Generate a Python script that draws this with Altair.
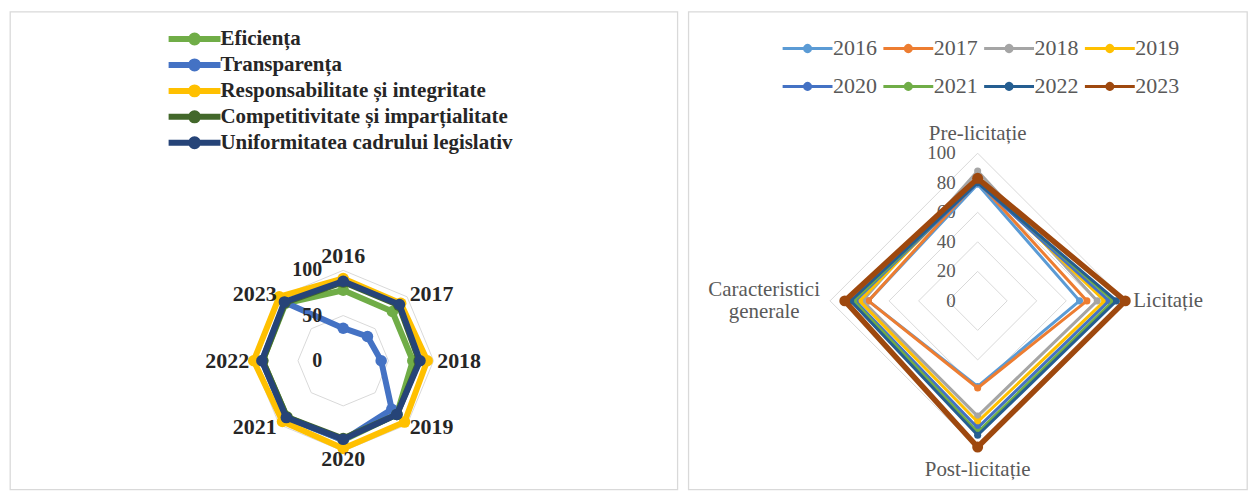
import altair as alt
import pandas as pd

FONT = "Liberation Serif"

# ---------------- left radar: criteria by year ----------------
years = ["2016", "2017", "2018", "2019", "2020", "2021", "2022", "2023"]
left_names = [
    "Eficiența",
    "Transparența",
    "Responsabilitate și integritate",
    "Competitivitate și imparțialitate",
    "Uniformitatea cadrului legislativ",
]
eficienta = [78, 77, 77, 84, 88, 88, 89, 90]
transparenta = [36, 38, 42, 76, 88, 89, 90, 91]
responsabilitate = [91, 90, 93, 96, 97, 95, 99, 100]
competitivitate = [87, 87, 84, 84, 86, 88, 89, 91]
uniformitatea = [88, 88, 85, 84, 87, 89, 90, 92]
left_series = [eficienta, transparenta, responsabilitate, competitivitate, uniformitatea]
left_colors = ["#70AD47", "#4472C4", "#FFC000", "#43682B", "#264478"]
left_ticks = [0, 50, 100]
left_rings = [50, 100]

# ---------------- right radar: stages by year ----------------
stages = ["Pre-licitație", "Licitație", "Post-licitație", "Caracteristici generale"]
right_names = ["2016", "2017", "2018", "2019", "2020", "2021", "2022", "2023"]
v2016 = [79, 69, 58, 74]
v2017 = [81, 74, 59, 74]
v2018 = [88, 81, 78, 78]
v2019 = [82, 86, 82, 80]
v2020 = [80, 89, 86, 83]
v2021 = [81, 92, 89, 84]
v2022 = [80, 94, 91, 86]
v2023 = [83, 100, 99, 90]
right_series = [v2016, v2017, v2018, v2019, v2020, v2021, v2022, v2023]
right_colors = ["#5B9BD5", "#ED7D31", "#A5A5A5", "#FFC000",
                "#4472C4", "#70AD47", "#255E91", "#9E480E"]
right_ticks = [0, 20, 40, 60, 80, 100]
right_rings = [20, 40, 60, 80, 100]


def long_table(names, series, cats):
    rows = []
    for name, vals in zip(names, series):
        for i, (c, v) in enumerate(zip(cats, vals)):
            rows.append({"series": name, "cat": c, "idx": i, "value": v})
    return pd.DataFrame(rows)


def polar(chart, n):
    return chart.transform_calculate(
        ang=f"datum.idx * 2 * PI / {n}"
    ).transform_calculate(
        px="datum.value * sin(datum.ang)", py="datum.value * cos(datum.ang)"
    )


def circ(cx, r):
    return (f"M{cx - r:.3f},0A{r:.3f},{r:.3f},0,1,1,{cx + r:.3f},0"
            f"A{r:.3f},{r:.3f},0,1,1,{cx - r:.3f},0")


def legend_path(sym_px, line_px, dot_radii_px):
    """Line with a dot drawn from strokes, in a symbol box of sym_px pixels."""
    unit = sym_px / 2.0
    x1 = -1 + line_px / unit
    mid = (-1 + x1) / 2
    p = f"M-1,0L{x1:.3f},0"
    for r in dot_radii_px:
        p += circ(mid, r / unit)
    return p


def radar(cats, names, series, colors, rings, ticks, center, pxu, size,
          line_w, pt_size, legend, label_specs, tick_style, ticks_on_top):
    W, H = size
    cx, cy = center
    xdom = [-cx / pxu, (W - cx) / pxu]
    ydom = [-(H - cy) / pxu, cy / pxu]
    n = len(cats)
    X = alt.X("px:Q", scale=alt.Scale(domain=xdom, nice=False, zero=False), axis=None)
    Y = alt.Y("py:Q", scale=alt.Scale(domain=ydom, nice=False, zero=False), axis=None)
    cscale = alt.Scale(domain=names, range=colors)
    df = long_table(names, series, cats)

    ring_df = pd.DataFrame([{"ring": r, "idx": i, "value": r} for r in rings for i in range(n)])
    ring_layer = polar(alt.Chart(ring_df), n).mark_line(
        interpolate="linear-closed", stroke="#d9d9d9", strokeWidth=1
    ).encode(X, Y, detail="ring:N", order="idx:Q")

    tick_df = pd.DataFrame({"tick": ticks})
    tick_layer = alt.Chart(tick_df).transform_calculate(
        px="0", py="datum.tick"
    ).mark_text(**tick_style).encode(X, Y, text="tick:Q")

    layers = [ring_layer]
    if not ticks_on_top:
        layers.append(tick_layer)
    for k, name in enumerate(names):
        base = polar(alt.Chart(df).transform_filter(alt.datum.series == name), n)
        line = base.mark_line(interpolate="linear-closed", strokeWidth=line_w[k]).encode(
            X, Y, order="idx:Q",
            color=alt.Color("series:N", scale=cscale, legend=legend),
        )
        pts = base.mark_point(filled=True, size=pt_size[k], opacity=1, strokeWidth=0).encode(
            X, Y, color=alt.Color("series:N", scale=cscale, legend=None),
        )
        layers += [line, pts]
    if ticks_on_top:
        layers.append(tick_layer)

    cat_df = pd.DataFrame({"cat": cats, "idx": list(range(n))})
    for filt, radius, kw in label_specs:
        lab = alt.Chart(cat_df).transform_calculate(
            ang=f"datum.idx * 2 * PI / {n}"
        ).transform_calculate(
            s="sin(datum.ang)", c="cos(datum.ang)"
        ).transform_filter(filt).transform_calculate(
            px=f"{radius} * datum.s", py=f"{radius} * datum.c"
        ).mark_text(**kw).encode(X, Y, text="cat:N")
        layers.append(lab)

    return alt.layer(*layers).properties(width=W, height=H)


# ---------- left panel ----------
lbl_left = dict(font=FONT, fontSize=22, fontWeight="bold", color="#262626")
left_label_specs = [
    ("datum.c > 0.9", 108, dict(align="center", baseline="alphabetic", **lbl_left)),
    ("datum.c < -0.9", 98, dict(align="center", baseline="top", **lbl_left)),
    ("datum.s > 0.1", 104, dict(align="left", baseline="middle", **lbl_left)),
    ("datum.s < -0.1", 104, dict(align="right", baseline="middle", **lbl_left)),
]
L_SYM = 13
left_legend = alt.Legend(
    title=None, orient="none", legendX=155, legendY=17, direction="vertical",
    symbolType=legend_path(L_SYM, 52, [1.5, 3.5]),
    symbolSize=L_SYM * L_SYM, symbolStrokeWidth=6,
    labelFont=FONT, labelFontSize=21, labelFontWeight="bold", labelColor="#262626",
    labelOffset=52 - L_SYM - 4, rowPadding=-8.7, labelLimit=500, padding=0,
)
left = radar(
    years, left_names, left_series, left_colors, left_rings, left_ticks,
    center=(334, 350), pxu=0.906, size=(669, 479),
    line_w=[6] * 5, pt_size=[133] * 5, legend=left_legend,
    label_specs=left_label_specs,
    tick_style=dict(align="right", dx=-21, baseline="middle", font=FONT,
                    fontSize=20, fontWeight="bold", color="#262626"),
    ticks_on_top=True,
)

# ---------- right panel ----------
lbl_right = dict(font=FONT, fontSize=21, color="#595959")
right_label_specs = [
    ("datum.c > 0.9", 109, dict(align="center", baseline="alphabetic", **lbl_right)),
    ("datum.c < -0.9", 107.4, dict(align="center", baseline="top", **lbl_right)),
    ("datum.s > 0.5", 105.4, dict(align="left", baseline="middle", **lbl_right)),
    ("datum.s < -0.5", 144.6, dict(align="center", baseline="middle", lineBreak=" ",
                                   lineHeight=22, dy=-11, **lbl_right)),
]
R_SYM = 9
right_legend = alt.Legend(
    title=None, orient="none", legendX=88, legendY=26, direction="horizontal", columns=4,
    symbolType=legend_path(R_SYM, 50, [1.5, 3.0]),
    symbolSize=R_SYM * R_SYM, symbolStrokeWidth=3,
    labelFont=FONT, labelFontSize=22, labelColor="#595959",
    labelOffset=50 - R_SYM - 6, rowPadding=16, columnPadding=0, labelLimit=200, padding=0,
)
right = radar(
    stages, right_names, right_series, right_colors, right_rings, right_ticks,
    center=(290, 290), pxu=1.48, size=(560, 479),
    line_w=[3] * 7 + [5.5], pt_size=[50] * 7 + [120], legend=right_legend,
    label_specs=right_label_specs,
    tick_style=dict(align="right", dx=-22, baseline="middle", font=FONT,
                    fontSize=19, color="#595959"),
    ticks_on_top=False,
)

chart = alt.hconcat(left, right, spacing=9).resolve_scale(
    color="independent", x="independent", y="independent"
).resolve_legend(color="independent").properties(
    padding={"left": 1, "top": 2, "right": 0, "bottom": 0},
    background="white",
).configure_view(stroke="#d9d9d9", strokeWidth=1.3)

chart.save("out.html", embed_options={"renderer": "svg", "actions": False})
